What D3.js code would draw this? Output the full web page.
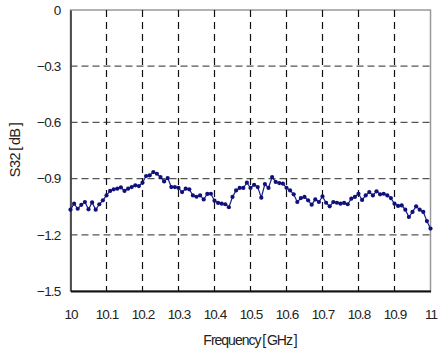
<!DOCTYPE html>
<html>
<head>
<meta charset="utf-8">
<script src="https://cdn.jsdelivr.net/npm/d3@7"></script>
<style>
  body { margin: 0; background: #fff; }
  text { font-family: "Liberation Sans", Arial, sans-serif; fill: #222; }
</style>
</head>
<body>
<svg class="chart" width="439" height="356"></svg>
<script>
// S32 measurement, 10 - 11 GHz, step 0.01 GHz
let freqStart = 10;
let freqStep = 0.01;
let s32 = [
  -1.066, -1.034, -1.061, -1.040, -1.025, -1.064, -1.027, -1.066, -1.037, -1.016,
  -0.990, -0.966, -0.957, -0.954, -0.947, -0.966, -0.954, -0.945, -0.936, -0.940,
  -0.922, -0.886, -0.883, -0.865, -0.874, -0.892, -0.915, -0.897, -0.945, -0.945,
  -0.950, -0.972, -0.954, -0.957, -0.990, -0.997, -0.990, -1.011, -0.982, -0.981,
  -1.018, -1.030, -1.034, -1.037, -1.053, -0.998, -0.963, -0.950, -0.950, -0.922,
  -0.950, -0.933, -0.945, -1.002, -0.929, -0.950, -0.892, -0.918, -0.924, -0.927,
  -0.949, -0.963, -0.984, -1.025, -1.004, -0.998, -1.016, -1.039, -1.011, -1.025,
  -0.995, -1.029, -1.048, -1.025, -1.029, -1.034, -1.030, -1.037, -1.007, -0.998,
  -0.981, -1.014, -0.990, -0.972, -0.990, -0.968, -0.984, -0.981, -0.990, -1.004,
  -1.034, -1.046, -1.043, -1.066, -1.105, -1.078, -1.048, -1.066, -1.078, -1.127,
  -1.167
];
let xTicks = [10, 10.1, 10.2, 10.3, 10.4, 10.5, 10.6, 10.7, 10.8, 10.9, 11];
let yTicks = [0, -0.3, -0.6, -0.9, -1.2, -1.5];

let data = s32.map((v, i) => ({ f: freqStart + i * freqStep, v: v }));

let svg = d3.select('svg.chart');
let margin = { left: 70.5, right: 430.5, top: 10, bottom: 291 };

let x = d3.scaleLinear().domain([10, 11]).range([margin.left, margin.right]);
let y = d3.scaleLinear().domain([-1.5, 0]).range([margin.bottom, margin.top]);

// border (top / right light)
svg.append('rect')
  .attr('x', margin.left).attr('y', margin.top)
  .attr('width', margin.right - margin.left)
  .attr('height', margin.bottom - margin.top)
  .style('fill', 'none')
  .style('stroke', '#999')
  .style('stroke-width', 1.5);

// horizontal gridlines
svg.append('g')
  .selectAll('line')
  .data(yTicks.filter(d => d !== 0 && d !== -1.5))
  .enter()
  .append('line')
  .attr('x1', margin.left).attr('x2', margin.right)
  .attr('y1', d => y(d)).attr('y2', d => y(d))
  .style('stroke', '#555')
  .style('stroke-width', 1.2)
  .style('stroke-dasharray', '7,4');

// vertical gridlines
svg.append('g')
  .selectAll('line')
  .data(xTicks.filter(d => d !== 10 && d !== 11))
  .enter()
  .append('line')
  .attr('x1', d => x(d)).attr('x2', d => x(d))
  .attr('y1', margin.top).attr('y2', margin.bottom)
  .style('stroke', '#111')
  .style('stroke-width', 1.2)
  .style('stroke-dasharray', '7,5');

// left and bottom axes
let yAxis = svg.append('g')
  .attr('transform', `translate(${margin.left},0)`)
  .call(d3.axisLeft(y).tickValues(yTicks).tickSize(0).tickPadding(10)
    .tickFormat(d => d === 0 ? '0' : d3.format('.1f')(d).replace('-', '\u2212')));
yAxis.select('.domain').style('stroke', '#444').style('stroke-width', 1.8);
yAxis.selectAll('text')
  .style('font-size', '13.5px')
  .style('letter-spacing', '-0.8px')
  .style('fill', '#222');

let xAxis = svg.append('g')
  .attr('transform', `translate(0,${margin.bottom})`)
  .call(d3.axisBottom(x).tickValues(xTicks).tickSize(0).tickPadding(18)
    .tickFormat(d => d3.format('')(+d.toFixed(1))));
xAxis.select('.domain').style('stroke', '#111').style('stroke-width', 1.8);
xAxis.selectAll('text')
  .style('font-size', '13.5px')
  .style('letter-spacing', '-0.9px')
  .style('fill', '#222');

// data line + markers
let liner = d3.line()
  .x(d => x(d.f))
  .y(d => y(d.v));

svg.append('path')
  .datum(data)
  .attr('d', liner)
  .style('fill', 'none')
  .style('stroke', '#1c1c8a')
  .style('stroke-width', 1.2);

svg.append('g')
  .selectAll('circle')
  .data(data)
  .enter()
  .append('circle')
  .attr('cx', d => x(d.f))
  .attr('cy', d => y(d.v))
  .attr('r', 2.1)
  .style('fill', '#10107a');

// axis titles
svg.append('text')
  .attr('x', 250).attr('y', 345)
  .attr('text-anchor', 'middle')
  .style('font-size', '14px')
  .style('letter-spacing', '-1px')
  .text('Frequency\u2009[\u2009GHz\u2009]');

svg.append('text')
  .attr('transform', 'translate(20,150) rotate(-90)')
  .attr('text-anchor', 'middle')
  .style('font-size', '14.5px')
  .style('letter-spacing', '-0.6px')
  .text('S32\u2009[\u2009dB\u2009]');
</script>
</body>
</html>
